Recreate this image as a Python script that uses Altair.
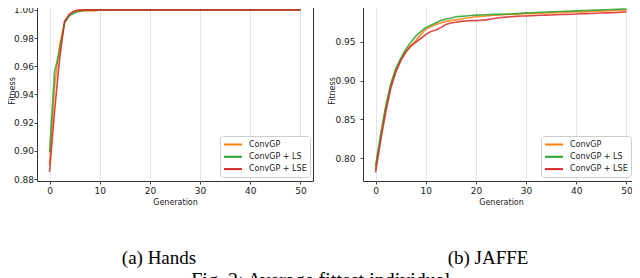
import altair as alt
import pandas as pd

gens = list(range(51))
methods = ["ConvGP", "ConvGP + LS", "ConvGP + LSE"]
colors = ["#ff7f0e", "#2ca02c", "#d62728"]

hands_convgp = [0.890, 0.945, 0.975, 0.991, 0.997, 0.999, 0.9993, 0.9993, 0.9993, 0.9993,
                1.0, 1.0, 1.0, 1.0, 1.0, 1.0, 1.0, 1.0, 1.0, 1.0,
                1.0, 1.0, 1.0, 1.0, 1.0, 1.0, 1.0, 1.0, 1.0, 1.0,
                1.0, 1.0, 1.0, 1.0, 1.0, 1.0, 1.0, 1.0, 1.0, 1.0,
                1.0, 1.0, 1.0, 1.0, 1.0, 1.0, 1.0, 1.0, 1.0, 1.0, 1.0]
hands_ls = [0.899, 0.956, 0.971, 0.991, 0.996, 0.998, 0.9988, 1.0, 1.0, 1.0,
            1.0, 1.0, 1.0, 1.0, 1.0, 1.0, 1.0, 1.0, 1.0, 1.0,
            1.0, 1.0, 1.0, 1.0, 1.0, 1.0, 1.0, 1.0, 1.0, 1.0,
            1.0, 1.0, 1.0, 1.0, 1.0, 1.0, 1.0, 1.0, 1.0, 1.0,
            1.0, 1.0, 1.0, 1.0, 1.0, 1.0, 1.0, 1.0, 1.0, 1.0, 1.0]
hands_lse = [0.885, 0.928, 0.965, 0.992, 0.997, 0.9993, 1.0, 1.0, 1.0, 1.0,
             1.0, 1.0, 1.0, 1.0, 1.0, 1.0, 1.0, 1.0, 1.0, 1.0,
             1.0, 1.0, 1.0, 1.0, 1.0, 1.0, 1.0, 1.0, 1.0, 1.0,
             1.0, 1.0, 1.0, 1.0, 1.0, 1.0, 1.0, 1.0, 1.0, 1.0,
             1.0, 1.0, 1.0, 1.0, 1.0, 1.0, 1.0, 1.0, 1.0, 1.0, 1.0]

jaffe_convgp = [0.786, 0.827, 0.864, 0.893, 0.913, 0.927, 0.938, 0.945, 0.951, 0.959,
                0.966, 0.969, 0.972, 0.974, 0.976, 0.977, 0.978, 0.979, 0.980, 0.981,
                0.982, 0.9825, 0.983, 0.9835, 0.984, 0.9845, 0.985, 0.985, 0.9852, 0.9855,
                0.986, 0.986, 0.9862, 0.9865, 0.9868, 0.987, 0.9872, 0.9875, 0.9878, 0.988,
                0.988, 0.9882, 0.9885, 0.9888, 0.989, 0.9892, 0.9895, 0.9898, 0.990, 0.990, 0.9905]
jaffe_ls = [0.790, 0.830, 0.866, 0.895, 0.915, 0.928, 0.940, 0.949, 0.957, 0.963,
            0.968, 0.971, 0.974, 0.977, 0.979, 0.980, 0.982, 0.9825, 0.983, 0.9835,
            0.984, 0.9842, 0.9845, 0.9848, 0.985, 0.985, 0.9852, 0.9855, 0.986, 0.9865,
            0.987, 0.9872, 0.9875, 0.9878, 0.988, 0.9882, 0.9885, 0.9888, 0.989, 0.9892,
            0.9895, 0.9898, 0.990, 0.9902, 0.9905, 0.9908, 0.991, 0.9912, 0.9915, 0.9918, 0.992]
jaffe_lse = [0.782, 0.822, 0.858, 0.889, 0.910, 0.925, 0.936, 0.944, 0.949, 0.954,
             0.959, 0.963, 0.965, 0.968, 0.972, 0.974, 0.975, 0.976, 0.9765, 0.977,
             0.977, 0.9775, 0.978, 0.979, 0.980, 0.981, 0.9815, 0.982, 0.9825, 0.983,
             0.983, 0.9832, 0.9835, 0.9838, 0.984, 0.9842, 0.9845, 0.9848, 0.985, 0.9852,
             0.9855, 0.9858, 0.986, 0.9862, 0.9865, 0.9868, 0.987, 0.9872, 0.9875, 0.9878, 0.988]

hands_ticks = [0.88, 0.90, 0.92, 0.94, 0.96, 0.98, 1.00]
jaffe_ticks = [0.80, 0.85, 0.90, 0.95, 1.00]
x_ticks = [0, 10, 20, 30, 40, 50]


def long_df(series):
    rows = []
    for name, vals in zip(methods, series):
        for g, v in zip(gens, vals):
            rows.append({"gen": g, "fit": v, "method": name})
    return pd.DataFrame(rows)


def panel(df, ydom, yticks, caption, cap_dx, lab_pad, title_x, leg_x):
    return alt.Chart(df).mark_line(strokeWidth=1.6, opacity=0.85, clip=True).encode(
        x=alt.X("gen:Q", scale=alt.Scale(domain=[-2.5, 52.5], nice=False, zero=False),
                axis=alt.Axis(values=x_ticks, grid=True, gridColor="#dfe8f2", gridWidth=1,
                              title="Generation", titleY=23.3, titleBaseline="alphabetic",
                              tickSize=3, labelPadding=2)),
        y=alt.Y("fit:Q", scale=alt.Scale(domain=ydom, nice=False, zero=False),
                axis=alt.Axis(values=yticks, format=".2f", grid=False, title="Fitness",
                              tickSize=3, labelPadding=lab_pad, titleX=title_x,
                              titleBaseline="alphabetic", titleAngle=270)),
        color=alt.Color("method:N", scale=alt.Scale(domain=methods, range=colors),
                        legend=alt.Legend(orient="none", legendX=leg_x, legendY=136, title=None,
                                          symbolType="M-2,0H2", symbolSize=81, symbolStrokeWidth=2,
                                          labelFont="DejaVu Sans", labelFontSize=8, labelColor="#222",
                                          fillColor="white", strokeColor="#cccccc", cornerRadius=3,
                                          padding=3, rowPadding=2.3, symbolOffset=4.5,
                                          labelOffset=10.5, symbolOpacity=1)),
    ).properties(
        width=276, height=181,
        title=alt.TitleParams(caption, orient="bottom", frame="group", anchor="middle",
                              offset=58, dx=cap_dx, baseline="alphabetic",
                              font="Liberation Serif", fontSize=19, fontWeight="normal",
                              color="black"),
    )


left = panel(long_df([hands_convgp, hands_ls, hands_lse]), [0.8786, 1.0070], hands_ticks,
             "(a) Hands", -16, 0.5, -22.5, 183)
right = panel(long_df([jaffe_convgp, jaffe_ls, jaffe_lse]), [0.7708, 1.0035], jaffe_ticks,
              "(b) JAFFE", -13, 5, -29, 178)

chart = alt.hconcat(left, right, spacing=50, bounds="flush").resolve_scale(
    x="independent", y="independent", color="independent"
).resolve_legend(color="independent").properties(
    title=alt.TitleParams("Fig. 2: Average fittest individual", orient="bottom", anchor="middle",
                          offset=18, dx=-3, baseline="alphabetic", font="Liberation Serif",
                          fontSize=20, fontWeight="normal", color="black"),
    padding={"left": 0, "top": -10, "right": -8, "bottom": 0},
).configure_view(stroke="#333", strokeWidth=1).configure_axis(
    domain=False, tickColor="#444", labelFont="DejaVu Sans", labelFontSize=9, labelColor="#222",
    titleFont="DejaVu Sans", titleFontSize=8, titleFontWeight="normal", titleColor="#222"
)

chart.save("out.html", embed_options={"renderer": "svg", "actions": False})
